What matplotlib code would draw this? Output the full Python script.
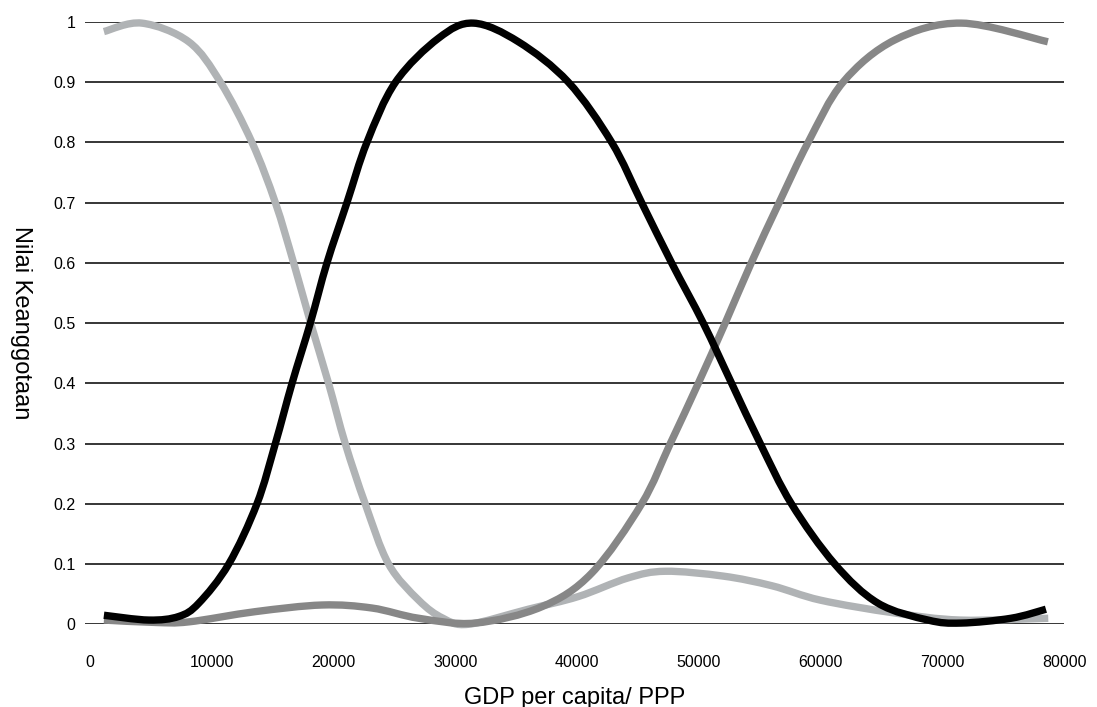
import numpy as np
import matplotlib
matplotlib.use('Agg')
import matplotlib.pyplot as plt
from matplotlib.path import Path
from matplotlib.patches import PathPatch

plt.rcParams['font.family'] = ['Liberation Sans', 'DejaVu Sans']

# membership curves (GDP per capita, membership value)
low_x = [1150, 4270, 8120, 10720, 13310, 15230, 16730, 18130, 19600, 20970,
         22610, 24530, 27000, 29000, 31090, 36000, 40100, 44200, 47250, 52000,
         56000, 60000, 66000, 71500, 78700]
low_y = [0.984, 0.998, 0.967, 0.90, 0.80, 0.70, 0.60, 0.50, 0.40, 0.30,
         0.20, 0.10, 0.040, 0.010, 0.0, 0.025, 0.046, 0.077, 0.088, 0.080,
         0.064, 0.040, 0.019, 0.007, 0.010]

mid_x = [1150, 4840, 7300, 8940, 11400, 13720, 15230, 16600, 18100, 19470, 21110,
         22750, 25100, 28630, 31500, 35190, 39290, 42850, 45310, 47770,
         50370, 52700, 55050, 57610, 61170, 64720, 68830, 71540, 75640, 78510]
mid_y = [0.015, 0.007, 0.013, 0.035, 0.10, 0.20, 0.30, 0.40, 0.50, 0.60, 0.70,
         0.80, 0.90, 0.973, 0.998, 0.967, 0.90, 0.80, 0.70, 0.60,
         0.50, 0.40, 0.30, 0.20, 0.10, 0.035, 0.007, 0.002, 0.010, 0.025]

high_x = [1150, 5390, 8120, 13590, 19060, 23160, 27000, 31640, 37100, 41210,
          45310, 47660, 49960, 52170, 54310, 56600, 58980, 61850, 66090, 71560, 78670]
high_y = [0.007, 0.003, 0.004, 0.021, 0.032, 0.027, 0.010, 0.002, 0.029, 0.085,
          0.20, 0.30, 0.40, 0.50, 0.60, 0.70, 0.80, 0.90, 0.970, 0.998, 0.967]

xticks = [0, 10000, 20000, 30000, 40000, 50000, 60000, 70000, 80000]
yticks = [0, 0.1, 0.2, 0.3, 0.4, 0.5, 0.6, 0.7, 0.8, 0.9, 1]
ytick_labels = ['0', '0.1', '0.2', '0.3', '0.4', '0.5', '0.6', '0.7', '0.8', '0.9', '1']


def smooth_path(xs, ys):
    # spreadsheet-style smoothed line: cubic bezier segments through the points
    p = np.column_stack([xs, ys]).astype(float)
    verts = [p[0]]
    codes = [Path.MOVETO]
    n = len(p)
    for i in range(n - 1):
        p0 = p[i - 1] if i > 0 else p[i]
        p3 = p[i + 2] if i + 2 < n else p[i + 1]
        c1 = p[i] + (p[i + 1] - p0) / 6
        c2 = p[i + 1] - (p3 - p[i]) / 6
        verts += [c1, c2, p[i + 1]]
        codes += [Path.CURVE4] * 3
    return Path(verts, codes)


fig = plt.figure(figsize=(10.97, 7.07), dpi=100)
ax = fig.add_axes([0.0775, 0.117, 0.8925, 0.852])

for yv in yticks:
    ax.axhline(yv, color='black', lw=1.1, zorder=1)

for xs, ys, col, z in [(low_x, low_y, '#b0b3b5', 3),
                       (high_x, high_y, '#878787', 4),
                       (mid_x, mid_y, 'black', 5)]:
    patch = PathPatch(smooth_path(xs, ys), facecolor='none', edgecolor=col,
                      lw=5.3, capstyle='butt', clip_on=False, zorder=z)
    ax.add_patch(patch)

ax.set_xlim(-400, 80000)
ax.set_ylim(0, 1)
ax.set_xticks(xticks)
ax.set_xticklabels([str(v) for v in xticks])
ax.set_yticks(yticks)
ax.set_yticklabels(ytick_labels)
ax.tick_params(length=0, labelsize=11.5)
ax.tick_params(axis='x', pad=22)
ax.tick_params(axis='y', pad=7)
for s in ax.spines.values():
    s.set_visible(False)

ax.set_xlabel('GDP per capita/ PPP', fontsize=17, labelpad=12)
ax.set_ylabel('Nilai Keanggotaan', fontsize=17, rotation=270)
ax.yaxis.set_label_coords(-0.077, 0.5)

plt.savefig('out.png', dpi=100)
plt.close()
